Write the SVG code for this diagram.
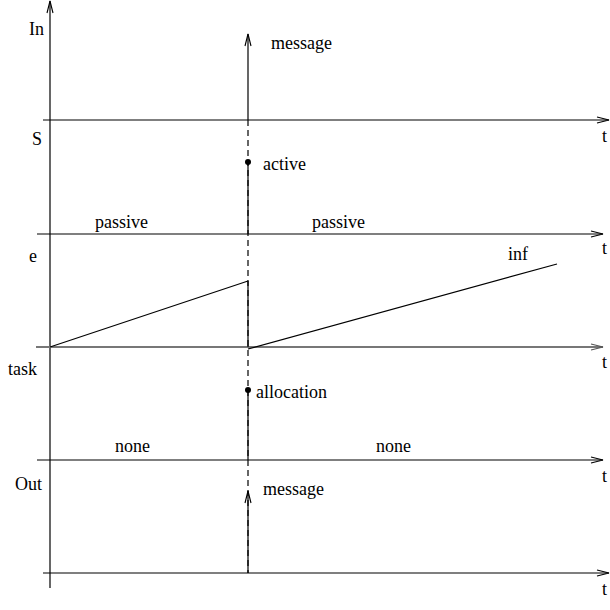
<svg xmlns="http://www.w3.org/2000/svg" width="610" height="610" viewBox="0 0 610 610">
<style>
text{font-family:"Liberation Serif","Times New Roman",serif;font-size:18px;fill:#000}
.ax{stroke:#000;stroke-width:1.2;fill:none}
.gax{stroke:#777;stroke-width:2;fill:none}
.ln{stroke:#000;stroke-width:1.2;fill:none}
.dash{stroke:#000;stroke-width:1.2;stroke-dasharray:6,4;fill:none}
</style>
<defs>
<marker id="ah" markerWidth="14" markerHeight="8" refX="13" refY="4" orient="auto" markerUnits="userSpaceOnUse">
<path d="M1,1 L13,4 L1,7" fill="none" stroke="#000" stroke-width="1.1"/>
</marker>
<marker id="ahg" markerWidth="14" markerHeight="8" refX="13" refY="4" orient="auto" markerUnits="userSpaceOnUse">
<path d="M1,1 L13,4 L1,7" fill="none" stroke="#555" stroke-width="1.1"/>
</marker>
</defs>
<g id="axes">
<line id="vaxis" class="ax" x1="50" y1="588" x2="50" y2="1" marker-end="url(#ah)"/>
<line id="ax-in" class="ax" x1="43" y1="120" x2="609" y2="120" marker-end="url(#ah)"/>
<line id="ax-s" class="ax" x1="37" y1="234" x2="603" y2="234" marker-end="url(#ah)"/>
<line id="ax-e" class="gax" x1="36" y1="347" x2="603" y2="347" marker-end="url(#ahg)"/>
<line id="ax-task" class="ax" x1="37" y1="460" x2="603" y2="460" marker-end="url(#ah)"/>
<line id="ax-out" class="ax" x1="43" y1="573" x2="609" y2="573" marker-end="url(#ah)"/>
</g>
<g id="labels">
<text x="29" y="35">In</text>
<text x="32" y="145">S</text>
<text x="29" y="262">e</text>
<text x="8" y="375">task</text>
<text x="15" y="490">Out</text>
<text x="602" y="142">t</text>
<text x="602" y="254">t</text>
<text x="602" y="368">t</text>
<text x="602" y="482">t</text>
<text x="602" y="595">t</text>
</g>
<g id="connectors">
<line class="dash" x1="248" y1="120" x2="248" y2="573"/>
<line id="msg-in" class="ln" x1="248" y1="120" x2="248" y2="34" marker-end="url(#ah)"/>
<line class="ln" x1="248" y1="162" x2="248" y2="234"/>
<line class="ln" x1="248" y1="281" x2="248" y2="347"/>
<line class="ln" x1="248" y1="390" x2="248" y2="460"/>
<line id="msg-out" class="ln" x1="248" y1="573" x2="248" y2="491" marker-end="url(#ah)"/>
<line id="ramp1" class="ln" x1="50" y1="347" x2="248" y2="281"/>
<line id="ramp2" class="ln" x1="248" y1="349" x2="557" y2="264"/>
</g>
<g id="node-active">
<circle cx="248" cy="162" r="3" fill="#000"/>
<text x="263" y="170">active</text>
</g>
<g id="node-allocation">
<circle cx="248" cy="390" r="3" fill="#000"/>
<text x="256" y="398">allocation</text>
</g>
<g id="state-labels">
<text x="271" y="49">message</text>
<text x="95" y="228">passive</text>
<text x="312" y="228">passive</text>
<text x="508" y="260">inf</text>
<text x="115" y="452">none</text>
<text x="376" y="452">none</text>
<text x="263" y="495">message</text>
</g>
</svg>
